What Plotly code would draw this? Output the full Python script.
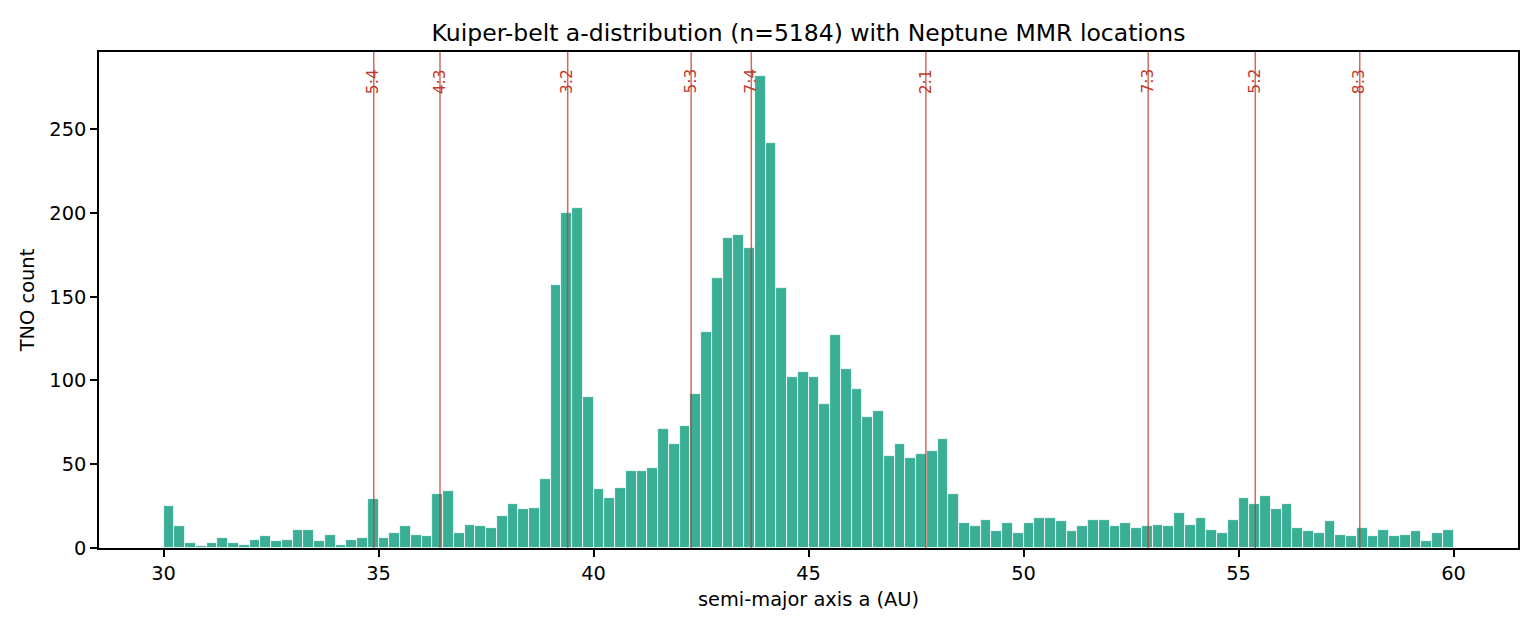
import numpy as np
import plotly.graph_objects as go

# Histogram: bins of 0.25 AU from 30.0 to 60.0
BIN_START = 30.0
BIN_WIDTH = 0.25
counts = [
    25, 13, 3, 1, 3, 6, 3, 2, 5, 7, 4, 5, 11, 11, 4, 8, 2, 5, 6, 29,
    6, 9, 13, 8, 7, 32, 34, 9, 14, 13, 12, 19, 26, 23, 24, 41, 157, 200, 203, 90,
    35, 30, 36, 46, 46, 48, 71, 62, 73, 92, 129, 161, 185, 187, 179, 282, 242, 155, 102, 105,
    102, 86, 127, 107, 95, 78, 82, 55, 62, 54, 56, 58, 65, 32, 15, 13, 17, 10, 15, 9,
    15, 18, 18, 16, 10, 13, 17, 17, 13, 15, 12, 13, 14, 13, 21, 14, 18, 11, 9, 17,
    30, 26, 31, 23, 26, 12, 10, 9, 16, 8, 7, 12, 7, 11, 7, 8, 10, 4, 9, 11,
]
bin_left = [BIN_START + i * BIN_WIDTH for i in range(len(counts))]

mmr_labels = ["5:4", "4:3", "3:2", "5:3", "7:4", "2:1", "7:3", "5:2", "8:3"]
mmr_a = [34.89, 36.43, 39.40, 42.27, 43.67, 47.73, 52.90, 55.39, 57.82]

x_ticks = [30, 35, 40, 45, 50, 55, 60]
y_ticks = [0, 50, 100, 150, 200, 250]

ymax = max(counts) * 1.05

fig = go.Figure()
fig.add_trace(go.Bar(
    x=bin_left, y=counts, width=BIN_WIDTH, offset=0,
    marker=dict(color="#3aaf96", line=dict(color="white", width=0.8)),
    showlegend=False,
))

for a, lab in zip(mmr_a, mmr_labels):
    fig.add_shape(type="line", x0=a, x1=a, xref="x", yref="paper", y0=0, y1=1,
                  line=dict(color="rgba(192,57,43,0.75)", width=1.5), layer="above")
    fig.add_annotation(x=a, y=ymax * 0.97, xref="x", yref="y", text=lab,
                       textangle=-90, showarrow=False, xanchor="center", yanchor="top",
                       font=dict(size=15.5, color="#c0392b", family="DejaVu Sans"))

fig.update_layout(
    width=1540, height=630,
    margin=dict(l=99, r=22, t=52, b=82),
    plot_bgcolor="white", paper_bgcolor="white",
    font=dict(family="DejaVu Sans", size=19.4, color="black"),
    title=dict(text="Kuiper-belt a-distribution (n=5184) with Neptune MMR locations",
               x=0.5, xref="paper", xanchor="center", y=1 - 33 / 630, yanchor="middle",
               font=dict(size=23.5, color="black")),
    bargap=0,
)
fig.update_xaxes(range=[28.5, 61.5], tickvals=x_ticks, ticks="outside", ticklen=7,
                 tickwidth=1.5, tickcolor="black", showline=True, linecolor="black",
                 linewidth=1.5, mirror=True, showgrid=False, zeroline=False,
                 title=dict(text="semi-major axis a (AU)", font=dict(size=19.4), standoff=8),
                 tickfont=dict(size=19.4))
fig.update_yaxes(range=[0, ymax], tickvals=y_ticks, ticks="outside", ticklen=7,
                 tickwidth=1.5, tickcolor="black", showline=True, linecolor="black",
                 linewidth=1.5, mirror=True, showgrid=False, zeroline=False,
                 title=dict(text="TNO count", font=dict(size=19.4), standoff=10),
                 tickfont=dict(size=19.4))

fig.write_html("out.html")
